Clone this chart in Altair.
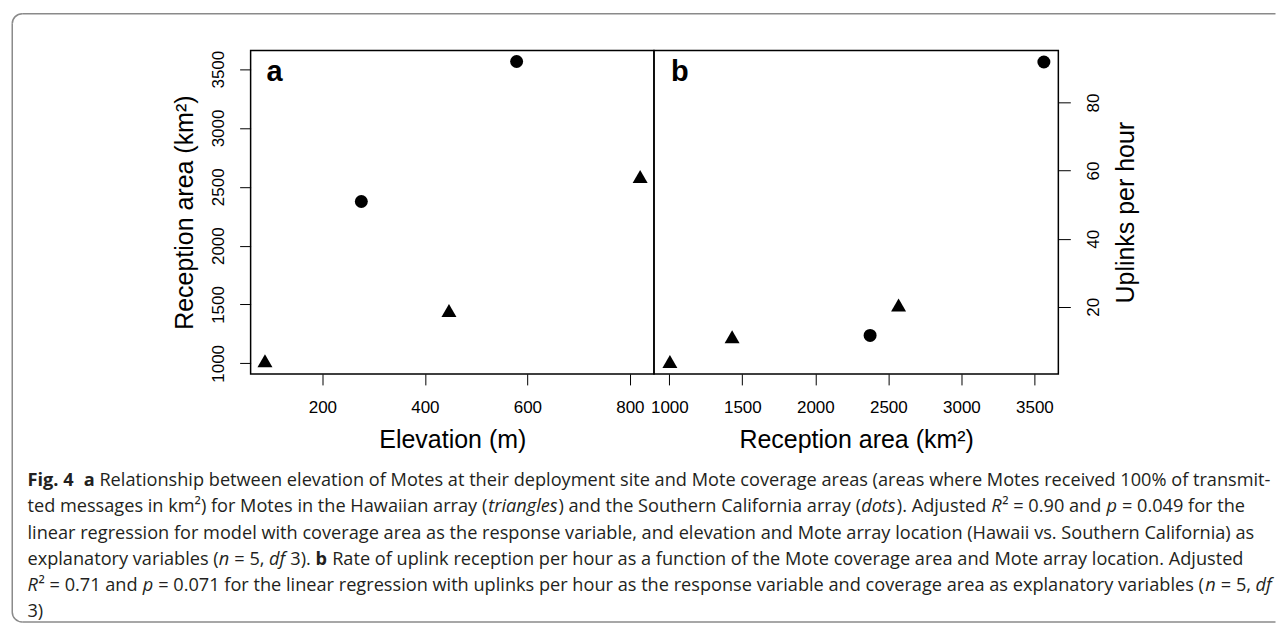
import altair as alt
import pandas as pd

# ---------------- data ----------------
array_loc = ["Hawaii", "Hawaii", "Southern California", "Hawaii", "Southern California"]
elevation_m = [88, 447, 276, 820, 579]
reception_km2 = [1004, 1430, 2375, 2570, 3565]
uplinks_per_hour = [3.3, 10.6, 11.6, 19.9, 91.9]

x_ticks_a = [200, 400, 600, 800]
y_ticks_a = [1000, 1500, 2000, 2500, 3000, 3500]
x_ticks_b = [1000, 1500, 2000, 2500, 3000, 3500]
y_ticks_b = [0, 20, 40, 60, 80]

caption_lines = [
    [("Fig. 4", "b"), ("  ", "r"), ("a", "b"),
     (" Relationship between elevation of Motes at their deployment site and Mote coverage areas (areas where Motes received 100% of transmit-", "r")],
    [("ted messages in km²) for Motes in the Hawaiian array (", "r"), ("triangles", "i"),
     (") and the Southern California array (", "r"), ("dots", "i"), ("). Adjusted ", "r"),
     ("R", "i"), ("² = 0.90 and ", "r"), ("p", "i"), (" = 0.049 for the", "r")],
    [("linear regression for model with coverage area as the response variable, and elevation and Mote array location (Hawaii vs. Southern California) as", "r")],
    [("explanatory variables (", "r"), ("n", "i"), (" = 5, ", "r"), ("df", "i"), (" 3). ", "r"),
     ("b", "b"), (" Rate of uplink reception per hour as a function of the Mote coverage area and Mote array location. Adjusted", "r")],
    [("R", "i"), ("² = 0.71 and ", "r"), ("p", "i"),
     (" = 0.071 for the linear regression with uplinks per hour as the response variable and coverage area as explanatory variables (", "r"),
     ("n", "i"), (" = 5, ", "r"), ("df", "i")],
    [("3)", "r")],
]

df = pd.DataFrame({
    "array": array_loc,
    "elevation": elevation_m,
    "area": reception_km2,
    "uplinks": uplinks_per_hour,
})

# ---------------- styling helpers ----------------
FONT = "Liberation Sans"
CAP_FONT = "Open Sans"
CAP_SIZE = 18.2
TRI = "M0,-1L0.866,0.5L-0.866,0.5Z"
FRAME_COLOR = "#8a8a8a"
FW = 1.5

# Open Sans advance widths (units / 2048) for caption layout
W = {" ": 532, "a": 1139, "b": 1255, "c": 975, "d": 1255, "e": 1149, "f": 694, "g": 1122,
     "h": 1257, "i": 518, "j": 518, "k": 1075, "l": 518, "m": 1905, "n": 1257, "o": 1237,
     "p": 1255, "q": 1255, "r": 836, "s": 977, "t": 723, "u": 1257, "v": 1026, "w": 1593,
     "x": 1073, "y": 1028, "z": 901, "(": 596, ")": 596, ",": 502, ".": 545, "-": 659,
     "=": 1171, "%": 1696, "²": 748, "A": 1296, "C": 1292, "F": 1057, "H": 1511,
     "M": 1849, "R": 1296, "S": 1108, "T": 1118}


def seg_width(s, style):
    w = sum(W.get(c, 1171) for c in s) / 2048 * CAP_SIZE
    if style == "b":
        w *= 1.07
    elif style == "i":
        w *= 0.96
    return w


def axis_common(**kw):
    base = dict(grid=False, domain=False, tickColor="black", tickWidth=1,
                labelColor="black", titleColor="black", labelFont=FONT, titleFont=FONT,
                labelFontSize=17, titleFontSize=25, titleFontWeight="normal",
                labelFlush=False, labelOverlap=False, labelBound=False, format="d")
    base.update(kw)
    return alt.Axis(**base)


def points(base, x_enc, y_enc):
    tri = base.transform_filter(alt.datum.array == "Hawaii").mark_point(
        shape=TRI, size=300, filled=True, color="black", opacity=1).encode(x=x_enc, y=y_enc)
    cir = base.transform_filter(alt.datum.array == "Southern California").mark_point(
        shape="circle", size=169, filled=True, color="black", opacity=1).encode(x=x_enc, y=y_enc)
    return [tri, cir]


one = alt.Data(values=[{}])

# view a origin on page is (249.5, 48.5)
OX, OY = 249.5, 48.5

# ---------------- outer frame (open on the right) ----------------
FL = -238.75            # left line (view coords)
FT = -36.75             # top line
FB = 621.0 - OY         # bottom line
FR = 1276.0 - OX        # right end of the horizontal lines
R = 10

frame_layers = [
    alt.Chart(one).mark_rule(color=FRAME_COLOR, strokeWidth=FW).encode(
        x=alt.value(FL + R), x2=alt.value(FR), y=alt.value(FT)),
    alt.Chart(one).mark_rule(color=FRAME_COLOR, strokeWidth=FW).encode(
        x=alt.value(FL + R), x2=alt.value(FR), y=alt.value(FB)),
    alt.Chart(one).mark_rule(color=FRAME_COLOR, strokeWidth=FW).encode(
        x=alt.value(FL), y=alt.value(FT + R), y2=alt.value(FB - R)),
    alt.Chart(one).mark_arc(color=FRAME_COLOR, radius=R + FW / 2, radius2=R - FW / 2,
                            theta=4.712389, theta2=6.283185).encode(
        x=alt.value(FL + R), y=alt.value(FT + R)),
    alt.Chart(one).mark_arc(color=FRAME_COLOR, radius=R + FW / 2, radius2=R - FW / 2,
                            theta=3.141593, theta2=4.712389).encode(
        x=alt.value(FL + R), y=alt.value(FB - R)),
]

# ---------------- caption ----------------
caption_layers = []
line_y0 = 480.0
line_step = 26.2
for li, segs in enumerate(caption_lines):
    cursor = 26.0
    py = line_y0 + li * line_step - OY
    for text, style in segs:
        lead = len(text) - len(text.lstrip(" "))
        xstart = cursor + seg_width(" " * lead, style)
        cursor += seg_width(text, style)
        t = text.strip(" ")
        if not t:
            continue
        mk = dict(align="left", baseline="middle", font=CAP_FONT, fontSize=CAP_SIZE,
                  color="#231f20")
        if style == "b":
            mk["fontWeight"] = "bold"
        if style == "i":
            mk["fontStyle"] = "italic"
        caption_layers.append(
            alt.Chart(one).mark_text(**mk).encode(
                x=alt.value(xstart - OX), y=alt.value(py), text=alt.value(t)))

# ---------------- panel a ----------------
base = alt.Chart(df)
xa = alt.X("elevation:Q", scale=alt.Scale(domain=[60, 847], nice=False, zero=False),
           axis=axis_common(values=x_ticks_a, title="Elevation (m)", tickSize=11,
                            labelPadding=15, titlePadding=12))
ya = alt.Y("area:Q", scale=alt.Scale(domain=[910, 3659], nice=False, zero=False),
           axis=axis_common(values=y_ticks_a, title="Reception area (km²)", orient="left",
                            tickSize=11, labelAngle=270, labelAlign="center",
                            labelBaseline="bottom", labelPadding=12,
                            titleAngle=270, titleBaseline="bottom", titlePadding=12))

label_a = alt.Chart(one).mark_text(align="left", baseline="alphabetic", font=FONT,
                                   fontSize=29, fontWeight="bold", color="black").encode(
    x=alt.value(16), y=alt.value(30.5), text=alt.value("a"))

panel_a = alt.layer(*frame_layers, *caption_layers, *points(base, xa, ya), label_a).properties(
    width=404, height=324)

# ---------------- panel b ----------------
xb = alt.X("area:Q", scale=alt.Scale(domain=[895, 3664], nice=False, zero=False),
           axis=axis_common(values=x_ticks_b, title="Reception area (km²)", tickSize=11,
                            labelPadding=15, titlePadding=12))
yb = alt.Y("uplinks:Q", scale=alt.Scale(domain=[0.3, 95.3], nice=False, zero=False),
           axis=axis_common(values=y_ticks_b, title="Uplinks per hour", orient="right",
                            tickSize=12, labelAngle=270, labelAlign="center",
                            labelBaseline="top", labelPadding=15,
                            titleAngle=270, titleBaseline="top", titlePadding=12))

label_b = alt.Chart(one).mark_text(align="left", baseline="alphabetic", font=FONT,
                                   fontSize=29, fontWeight="bold", color="black").encode(
    x=alt.value(17), y=alt.value(30.5), text=alt.value("b"))

panel_b = alt.layer(*points(base, xb, yb), label_b).properties(width=405, height=324)

chart = alt.hconcat(panel_a, panel_b, spacing=0, bounds="flush").properties(
    padding={"left": 2, "top": 3, "right": 0, "bottom": 0},
    background="white",
).configure_view(stroke="black", strokeWidth=1.5)

chart.save("out.html", embed_options={"renderer": "svg", "actions": False})
